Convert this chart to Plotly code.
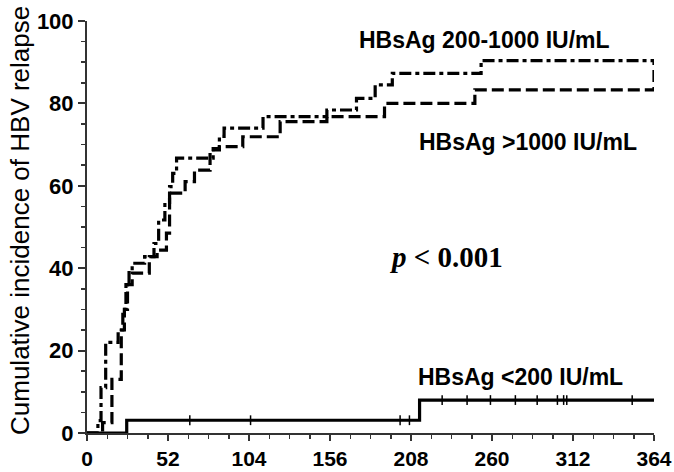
import plotly.graph_objects as go

# ---- data ----
# HBsAg 200-1000 IU/mL (dash-dot)
mid_days = [0, 7, 9, 12, 20, 23, 25, 27, 29, 37, 43, 46, 50, 53, 55, 57.5, 81, 85, 88, 113, 154, 173, 185, 196, 253, 364]
mid_vals = [0, 3, 11, 22, 25, 30, 36, 39.5, 41.2, 42.8, 46, 51.7, 56, 59.8, 63, 66.7, 69, 72, 74, 76.8, 78.4, 81.2, 84.5, 87.3, 90.4, 90.4]

# HBsAg >1000 IU/mL (dashed)
high_days = [0, 10, 16, 22, 24, 26, 29, 40, 45, 51, 53, 63, 69, 79, 85, 100, 124, 154, 191, 249, 364]
high_vals = [0, 2.5, 13, 25, 30, 36, 38.8, 42.8, 44.4, 48.5, 58.2, 61, 63.8, 68.7, 69.5, 71.9, 75.6, 76.8, 80.0, 83.3, 90.4]

# HBsAg <200 IU/mL (solid)
low_days = [0, 25.5, 213.5, 364]
low_vals = [0, 3.1, 8.0, 8.0]
low_censor_days = [66, 105, 201, 207, 228, 244, 259, 275, 289, 302, 306, 308, 350]
low_censor_vals = [3.1, 3.1, 3.1, 3.1, 8.0, 8.0, 8.0, 8.0, 8.0, 8.0, 8.0, 8.0, 8.0]

x_ticks = [0, 52, 104, 156, 208, 260, 312, 364]
y_ticks = [0, 20, 40, 60, 80, 100]

FONT = "Arial, Liberation Sans, sans-serif"
W, H = 674, 472
L, R, T, B = 87, 20, 21, 39

fig = go.Figure()
fig.add_trace(go.Scatter(x=mid_days, y=mid_vals, mode="lines", line_shape="hv",
                         line=dict(color="black", width=3.2, dash="12px,4px,4px,4px"),
                         name="HBsAg 200-1000 IU/mL"))
fig.add_trace(go.Scatter(x=high_days, y=high_vals, mode="lines", line_shape="hv",
                         line=dict(color="black", width=3.2, dash="12px,5px"),
                         name="HBsAg >1000 IU/mL"))
fig.add_trace(go.Scatter(x=low_days, y=low_vals, mode="lines", line_shape="hv",
                         line=dict(color="black", width=3.2),
                         name="HBsAg <200 IU/mL"))
fig.add_trace(go.Scatter(x=low_censor_days, y=low_censor_vals, mode="markers",
                         marker=dict(symbol="line-ns", size=7,
                                     line=dict(color="black", width=1.5)),
                         hoverinfo="skip"))


def label(text, px, py, size=23, family=FONT, angle=0):
    # place text at a pixel position of the 674x472 page
    fig.add_annotation(x=(px - L) / (W - L - R), y=(H - B - py) / (H - T - B),
                       xref="paper", yref="paper", textangle=angle,
                       text=text, showarrow=False, xanchor="center", yanchor="middle",
                       font=dict(family=family, size=size, color="black"))


label("<b>HBsAg 200-1000 IU/mL</b>", 484, 40)
label("<b>HBsAg >1000 IU/mL</b>", 528, 142)
label("<b>HBsAg <200 IU/mL</b>", 520, 377)
label("<b><i>p</i> &lt; 0.001</b>", 446, 257, size=29,
      family="Times New Roman, Liberation Serif, serif")
label("Cumulative incidence of HBV relapse", 20, 221, size=26, angle=-90)

fig.update_layout(
    width=W, height=H,
    margin=dict(l=L, r=R, t=T, b=B),
    paper_bgcolor="white", plot_bgcolor="white",
    showlegend=False,
    font=dict(family=FONT, color="black"),
)
fig.update_xaxes(range=[0, 364], tickvals=x_ticks, ticktext=[f"<b>{v}</b>" for v in x_ticks],
                 automargin=False,
                 showgrid=False, zeroline=False, showline=True, linecolor="#333",
                 linewidth=2, ticks="outside", ticklen=6, tickwidth=2, tickcolor="#333",
                 tickfont=dict(size=21, family=FONT),
                 minor=dict(dtick=13, tick0=0, ticks="outside", ticklen=4, tickwidth=1.5,
                            tickcolor="#333", showgrid=False))
fig.update_yaxes(range=[0, 100], tickvals=y_ticks, ticktext=[f"<b>{v}</b>" for v in y_ticks],
                 automargin=False,
                 showgrid=False, zeroline=False, showline=True, linecolor="#333",
                 linewidth=2, ticks="outside", ticklen=7, tickwidth=2, tickcolor="#333",
                 tickfont=dict(size=22, family=FONT),
                 minor=dict(dtick=5, tick0=0, ticks="outside", ticklen=4, tickwidth=1.5,
                            tickcolor="#333", showgrid=False))

fig.write_html("out.html",
               config={"displayModeBar": False, "staticPlot": True},
               post_script="document.body.style.margin='0';"
                           "document.body.style.overflow='hidden';")
